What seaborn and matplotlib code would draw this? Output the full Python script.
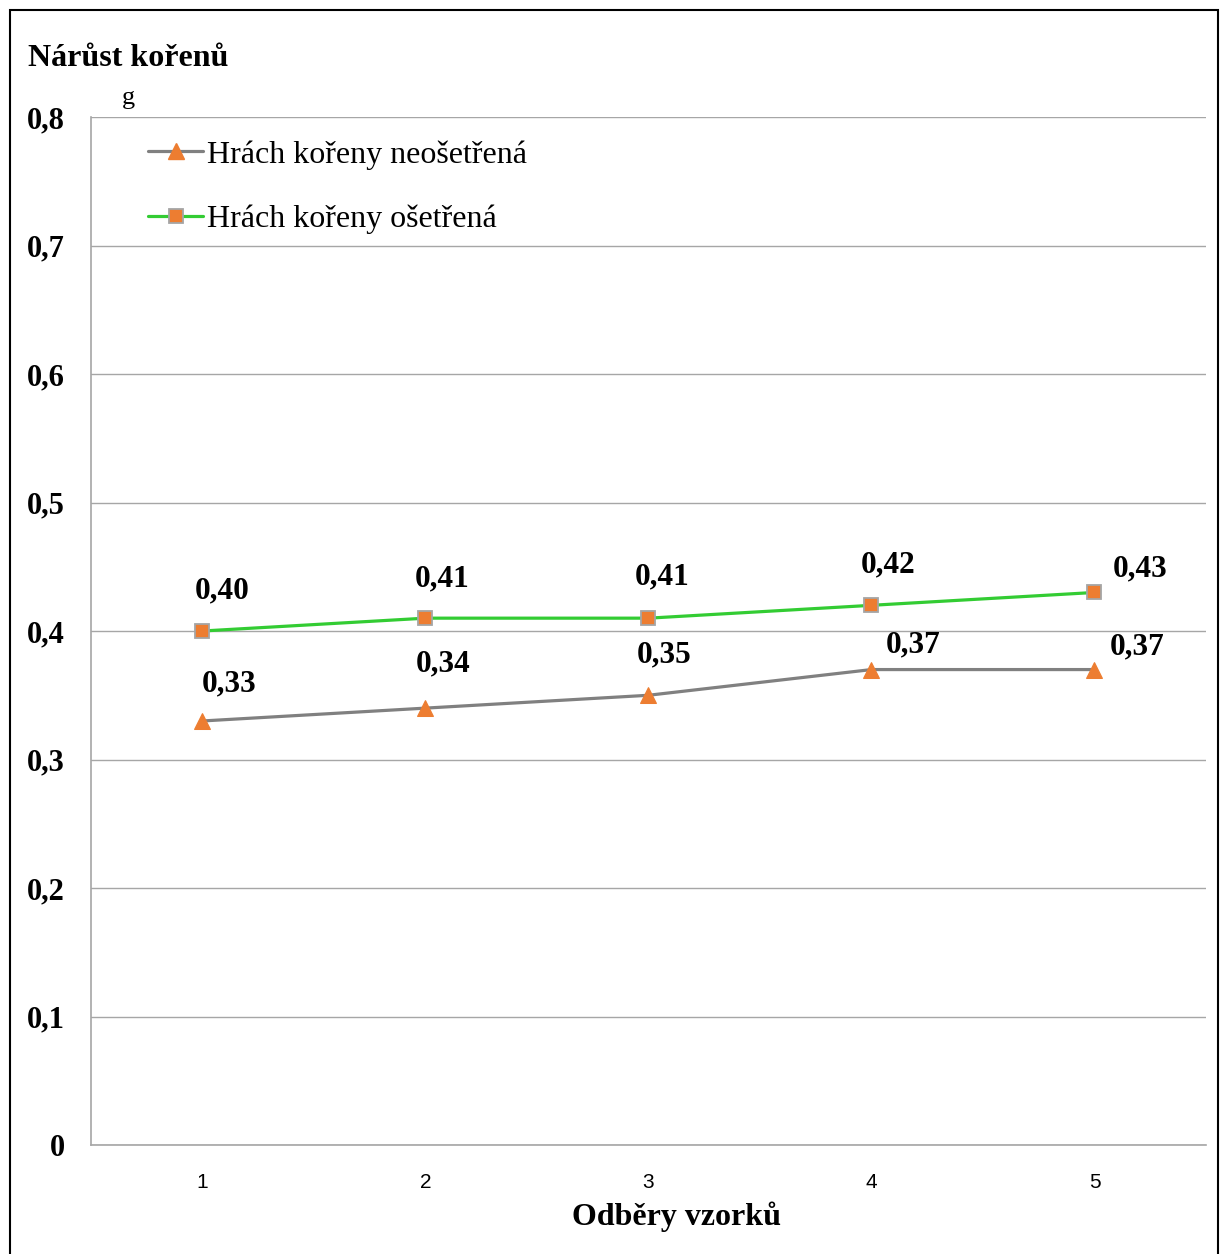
import pandas as pd
import matplotlib.pyplot as plt
import matplotlib.patches as patches
from matplotlib.lines import Line2D
import seaborn as sns

# Data
odbery = [1, 2, 3, 4, 5]
neosetrena = [0.33, 0.34, 0.35, 0.37, 0.37]
osetrena = [0.40, 0.41, 0.41, 0.42, 0.43]
serie_names = ['Hrách kořeny neošetřená', 'Hrách kořeny ošetřená']
y_ticks = [0, 0.1, 0.2, 0.3, 0.4, 0.5, 0.6, 0.7, 0.8]

df = pd.DataFrame({
    'Odber': odbery * 2,
    'Hodnota': neosetrena + osetrena,
    'Serie': [serie_names[0]] * 5 + [serie_names[1]] * 5,
})

sns.set_style('white')
plt.rcParams['font.family'] = ['Liberation Serif', 'DejaVu Serif']
plt.rcParams['text.color'] = 'black'
plt.rcParams['xtick.color'] = 'black'
plt.rcParams['ytick.color'] = 'black'
plt.rcParams['axes.labelcolor'] = 'black'

fig = plt.figure(figsize=(12.23, 12.54), dpi=100)
ax = fig.add_axes([0.0744, 0.0869, 0.9117, 0.8198])

palette = {serie_names[0]: '#808080', serie_names[1]: '#33CC33'}
sns.lineplot(data=df, x='Odber', y='Hodnota', hue='Serie', style='Serie',
             palette=palette, markers={serie_names[0]: '^', serie_names[1]: 's'},
             dashes=False, linewidth=2.3, markersize=11, ax=ax, legend=False)

# marker styling like Excel
for line in ax.get_lines():
    line.set_markerfacecolor('#ED7D31')
    if line.get_marker() == 's':
        line.set_markeredgecolor('#A5A5A5')
        line.set_markersize(10)
        line.set_markeredgewidth(1.3)
    else:
        line.set_markeredgecolor('#ED7D31')

ax.set_xlim(0.5, 5.5)
ax.set_ylim(0, 0.8)
ax.set_yticks(y_ticks)
ax.set_yticklabels([('%.1f' % v).replace('.', ',') if v else '0' for v in y_ticks],
                   fontsize=22, fontweight='bold')
ax.set_xticks(odbery)
ax.set_xticklabels([str(v) for v in odbery], fontsize=15, family='Liberation Sans')
ax.tick_params(axis='y', length=0, pad=19)
ax.tick_params(axis='x', length=0, pad=20)

ax.grid(axis='y', color='#A6A6A6', linewidth=1)
ax.set_axisbelow(True)
for s in ['top', 'right']:
    ax.spines[s].set_visible(False)
for s in ['left', 'bottom']:
    ax.spines[s].set_color('#A6A6A6')
    ax.spines[s].set_linewidth(1.2)

ax.set_xlabel('Odběry vzorků', fontsize=23, fontweight='bold')
ax.xaxis.set_label_coords(0.5247, -0.0545)
ax.set_ylabel('')

# data labels (offsets in points)
off_gray = [(19, 27), (13, 32), (11, 29), (30, 18), (31, 16)]
off_green = [(14, 29), (12, 28), (10, 30), (12, 29), (33, 17)]
for x, v, o in zip(odbery, neosetrena, off_gray):
    ax.annotate(('%.2f' % v).replace('.', ','), (x, v), xytext=o,
                textcoords='offset points', ha='center', va='center',
                fontsize=22.5, fontweight='bold')
for x, v, o in zip(odbery, osetrena, off_green):
    ax.annotate(('%.2f' % v).replace('.', ','), (x, v), xytext=o,
                textcoords='offset points', ha='center', va='center',
                fontsize=22.5, fontweight='bold')

# legend
handles = [
    Line2D([], [], color='#808080', lw=2.3, marker='^', markersize=11,
           markerfacecolor='#ED7D31', markeredgecolor='#ED7D31'),
    Line2D([], [], color='#33CC33', lw=2.3, marker='s', markersize=10,
           markerfacecolor='#ED7D31', markeredgecolor='#A5A5A5', markeredgewidth=1.3),
]
ax.legend(handles, serie_names, loc='upper left', bbox_to_anchor=(0.04, 0.99),
          frameon=False, fontsize=23, handlelength=1.7, handletextpad=0.15,
          labelspacing=1.1, borderaxespad=0)

fig.text(28 / 1223, 1 - 59 / 1254, 'Nárůst kořenů', fontsize=23, fontweight='bold',
         ha='left', va='center')
fig.text(128 / 1223, 1 - 98 / 1254, 'g', fontsize=19, ha='center', va='center')

# outer frame
fig.patches.append(patches.Rectangle((10 / 1223, -0.01), 1208 / 1223, 1.002,
                                     transform=fig.transFigure, fill=False,
                                     edgecolor='black', linewidth=1.5))

fig.savefig('out.png', dpi=100)
